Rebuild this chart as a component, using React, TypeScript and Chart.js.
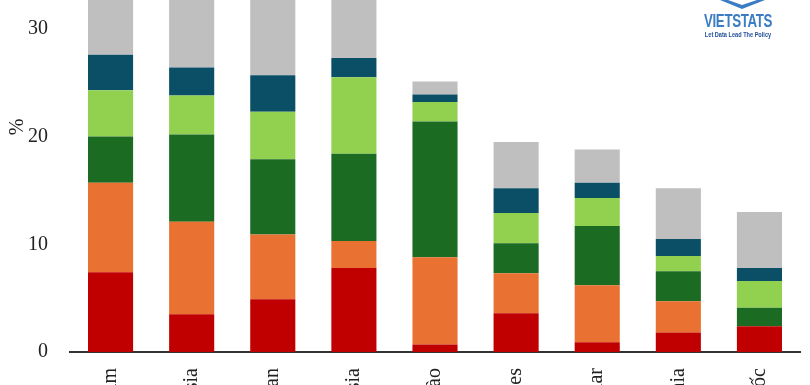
import React, { useEffect, useRef } from "react";
import { Chart, registerables } from "chart.js";

Chart.register(...registerables);

const categories = ["Việt Nam", "Malaysia", "Đài Loan", "Indonesia", "Lào", "Philippines", "Myanmar", "Campuchia", "Hàn Quốc"];
const seriesNames = ["Nhóm 1", "Nhóm 2", "Nhóm 3", "Nhóm 4", "Nhóm 5", "Khác"];
const redValues = [7.4, 3.5, 4.9, 7.8, 0.7, 3.6, 0.9, 1.8, 2.4];
const orangeValues = [8.3, 8.6, 6.0, 2.5, 8.1, 3.7, 5.3, 2.9, 0];
const darkGreenValues = [4.3, 8.1, 7.0, 8.1, 12.6, 2.8, 5.5, 2.8, 1.7];
const lightGreenValues = [4.3, 3.6, 4.4, 7.1, 1.8, 2.8, 2.6, 1.4, 2.5];
const tealValues = [3.3, 2.6, 3.4, 1.8, 0.7, 2.3, 1.4, 1.6, 1.2];
const grayValues = [10.3, 9.7, 9.2, 6.8, 1.2, 4.3, 3.1, 4.7, 5.2];
const yTickValues = [0, 10, 20, 30];
const yAxisTitle = "%";

const colors = ["#C00000", "#E97132", "#1B6B23", "#92D050", "#0A4F66", "#BFBFBF"];

export default function App() {
  const ref = useRef<HTMLCanvasElement | null>(null);
  useEffect(() => {
    if (!ref.current) return;
    const all = [redValues, orangeValues, darkGreenValues, lightGreenValues, tealValues, grayValues];
    const font = { family: "'Liberation Serif', serif", size: 20 };
    const chart = new Chart(ref.current, {
      type: "bar",
      data: {
        labels: categories,
        datasets: all.map((d, i) => ({
          label: seriesNames[i],
          data: d,
          backgroundColor: colors[i],
          borderWidth: 0,
          barPercentage: 1,
          categoryPercentage: 0.556,
        })),
      },
      options: {
        responsive: false,
        animation: false,
        layout: { padding: { left: 0, right: 10, top: 0, bottom: 0 } },
        plugins: { legend: { display: false }, tooltip: { enabled: false } },
        scales: {
          x: {
            stacked: true,
            grid: { display: false, drawTicks: false },
            border: { display: true, color: "#333333", width: 2 },
            ticks: {
              minRotation: 90,
              maxRotation: 90,
              autoSkip: false,
              padding: 16,
              color: "#222222",
              font,
            },
            afterFit: (s: any) => {
              s.height = 148;
            },
          },
          y: {
            stacked: true,
            min: 0,
            max: 41.77,
            grid: { display: false, drawTicks: false },
            border: { display: false },
            afterBuildTicks: (s: any) => {
              s.ticks = yTickValues.map((v) => ({ value: v }));
            },
            ticks: {
              padding: 22,
              color: "#222222",
              font,
            },
            title: {
              display: true,
              text: yAxisTitle,
              color: "#222222",
              font,
              padding: { top: 6, bottom: 0 },
            },
            afterFit: (s: any) => {
              s.width = 70;
            },
          },
        },
      },
    });
    return () => chart.destroy();
  }, []);

  return (
    <div style={{ position: "fixed", left: 0, top: 0, width: 810, height: 385, overflow: "hidden", background: "#fff" }}>
      <div style={{ position: "absolute", left: 0, top: -132, width: 810, height: 632 }}>
        <canvas ref={ref} width={810} height={632} />
      </div>
      <svg style={{ position: "absolute", left: 716, top: 0 }} width={54} height={12}>
        <polygon points="4,0 26,9 49,0 41,0 26,5 12,0" fill="#3B7DC4" />
      </svg>
      <div
        style={{
          position: "absolute",
          left: 688,
          top: 11,
          width: 100,
          textAlign: "center",
          fontFamily: "'Liberation Sans', sans-serif",
          fontWeight: 700,
          fontSize: 18,
          lineHeight: "20px",
          color: "#3B7DC4",
          letterSpacing: -0.5,
          transform: "scaleX(0.74)",
          transformOrigin: "50% 50%",
        }}
      >
        VIETSTATS
      </div>
      <div
        style={{
          position: "absolute",
          left: 688,
          top: 31,
          width: 100,
          textAlign: "center",
          fontFamily: "'Liberation Sans', sans-serif",
          fontWeight: 700,
          fontSize: 7,
          lineHeight: "8px",
          color: "#1F4E9A",
          whiteSpace: "nowrap",
          transform: "scaleX(0.8)",
          transformOrigin: "50% 50%",
        }}
      >
        Let Data Lead The Policy
      </div>
    </div>
  );
}
